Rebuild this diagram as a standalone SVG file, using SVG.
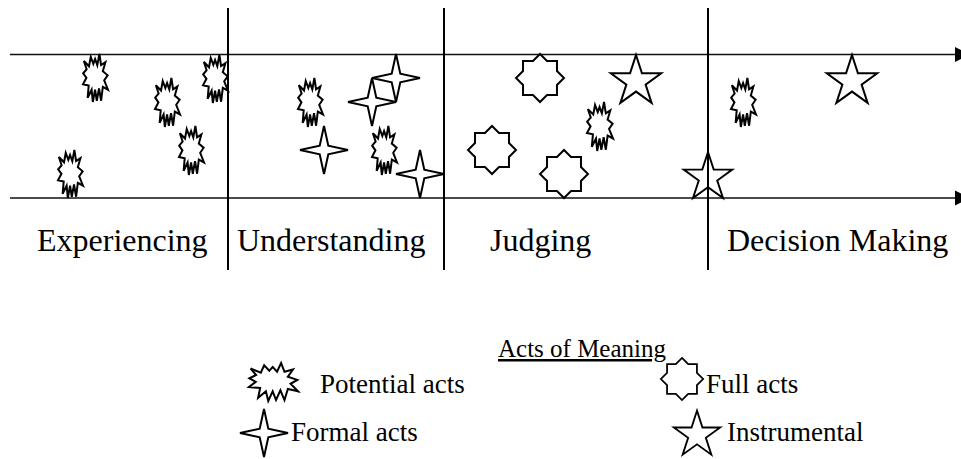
<svg xmlns="http://www.w3.org/2000/svg" width="961" height="459" viewBox="0 0 961 459">
  <defs>
    <style>
      .shape{fill:none;stroke:#000;stroke-width:2;stroke-linejoin:miter}
      .axis{stroke:#111;stroke-width:1.6;fill:none}
      .divider{stroke:#000;stroke-width:2;fill:none}
      text{font-family:"Liberation Serif","Times New Roman",serif;fill:#000}
      .stage{font-size:32px}
      .legend{font-size:27px}
      .legend-title{font-size:25px}
    </style>
    <marker id="arrow" markerUnits="userSpaceOnUse" markerWidth="16" markerHeight="16" viewBox="0 0 16 16" refX="0" refY="8" orient="auto">
      <path d="M0,0.5 L15,8 L0,15.5 Z" fill="#000"/>
    </marker>
    <!-- potential act: explosion burst, drawn in a 100x100 box -->
    <symbol id="burst" viewBox="0 0 100 100" preserveAspectRatio="none" overflow="visible">
      <path class="shape" vector-effect="non-scaling-stroke" d="M3.4,14.5 L24.1,25.6 L31,6 L41.4,20.5 L48.3,10.3 L57.2,23.1 L65.5,0 L72.4,23.1 L89.7,17.1 L79.3,35.9 L98.6,44.4 L84.8,54.7 L100,74.4 L79.3,68.4 L72.4,97.4 L64.1,71.8 L55.2,97.4 L48.3,74.4 L39.3,100 L34.5,74.4 L18.6,91.5 L22.8,65.8 L0,63.2 L13.8,49.6 L0.7,40.2 L14.5,31.6 Z"/>
    </symbol>
    <!-- formal act: four-point star centred on 0,0 -->
    <polygon id="star4" class="shape" points="0,-24 4.3,-4.3 24,0 4.3,4.3 0,24 -4.3,4.3 -24,0 -4.3,-4.3"/>
    <!-- full act: eight-point star centred on 0,0 -->
    <polygon id="star8" class="shape" points="0,-24 7.03,-16.97 16.97,-16.97 16.97,-7.03 24,0 16.97,7.03 16.97,16.97 7.03,16.97 0,24 -7.03,16.97 -16.97,16.97 -16.97,7.03 -24,0 -16.97,-7.03 -16.97,-16.97 -7.03,-16.97"/>
    <!-- instrumental act: five-point star centred on 0,0 -->
    <polygon id="star5" class="shape" points="0,-26.5 5.95,-8.2 25.2,-8.2 9.62,3.13 15.6,21.4 0,10.1 -15.6,21.4 -9.62,3.13 -25.2,-8.2 -5.95,-8.2"/>
  </defs>

  <!-- axes and stage dividers -->
  <g id="connectors">
    <line class="axis" x1="10" y1="54.5" x2="955" y2="54.5" marker-end="url(#arrow)"/>
    <line class="axis" x1="10" y1="198" x2="955" y2="198" marker-end="url(#arrow)"/>
    <line class="divider" x1="228" y1="8" x2="228" y2="270"/>
    <line class="divider" x1="444" y1="8" x2="444" y2="270"/>
    <line class="divider" x1="708" y1="8" x2="708" y2="270"/>
  </g>

  <!-- stage labels -->
  <g id="stage-labels" class="stage">
    <text x="37" y="251">Experiencing</text>
    <text x="237" y="251">Understanding</text>
    <text x="490" y="251">Judging</text>
    <text x="727" y="251">Decision Making</text>
  </g>

  <!-- experiencing -->
  <g id="potential-1"><use href="#burst" x="83" y="54" width="25" height="48"/></g>
  <g id="potential-2"><use href="#burst" x="155" y="78" width="25" height="49"/></g>
  <g id="potential-3"><use href="#burst" x="203" y="55" width="25" height="48"/></g>
  <g id="potential-4"><use href="#burst" x="179" y="126" width="25" height="49"/></g>
  <g id="potential-5"><use href="#burst" x="58" y="150" width="25" height="48"/></g>

  <!-- understanding -->
  <g id="potential-6"><use href="#burst" x="298" y="78" width="25" height="49"/></g>
  <g id="potential-7"><use href="#burst" x="372" y="126" width="25" height="49"/></g>
  <g id="formal-1"><use href="#star4" transform="translate(396 78)"/></g>
  <g id="formal-2"><use href="#star4" transform="translate(372 102)"/></g>
  <g id="formal-3"><use href="#star4" transform="translate(324 150)"/></g>
  <g id="formal-4"><use href="#star4" transform="translate(420 174)"/></g>

  <!-- judging -->
  <g id="full-1"><use href="#star8" transform="translate(540 78)"/></g>
  <g id="full-2"><use href="#star8" transform="translate(492 150)"/></g>
  <g id="full-3"><use href="#star8" transform="translate(564 174)"/></g>
  <g id="potential-8"><use href="#burst" x="587" y="102" width="26" height="49"/></g>
  <g id="instrumental-1"><use href="#star5" transform="translate(636 81.5)"/></g>
  <g id="instrumental-2"><use href="#star5" transform="translate(708 177.5) scale(0.96)"/></g>

  <!-- decision making -->
  <g id="potential-9"><use href="#burst" x="731" y="78" width="25" height="49"/></g>
  <g id="instrumental-3"><use href="#star5" transform="translate(852 81.5)"/></g>

  <!-- key -->
  <g id="legend" class="legend">
    <text class="legend-title" x="582" y="357" text-anchor="middle" text-decoration="underline">Acts of Meaning</text>
    <g id="legend-potential">
      <use href="#burst" x="249" y="363" width="49" height="38"/>
      <text x="320" y="393">Potential acts</text>
    </g>
    <g id="legend-full">
      <use href="#star8" transform="translate(682 379) scale(0.88)"/>
      <text x="706" y="393">Full acts</text>
    </g>
    <g id="legend-formal">
      <use href="#star4" transform="translate(264 433)"/>
      <text x="291" y="441">Formal acts</text>
    </g>
    <g id="legend-instrumental">
      <use href="#star5" transform="translate(697 435) scale(0.92)"/>
      <text x="727" y="441">Instrumental</text>
    </g>
  </g>
</svg>
